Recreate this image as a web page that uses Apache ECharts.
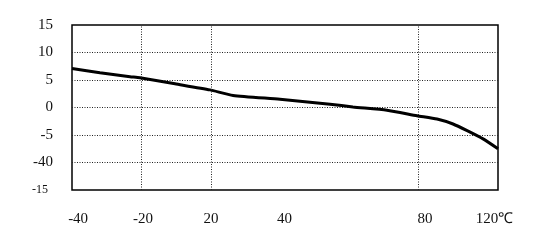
<!DOCTYPE html>
<html><head><meta charset="utf-8">
<script src="https://cdn.jsdelivr.net/npm/echarts@6/dist/echarts.min.js"></script>
<style>html,body{margin:0;padding:0;background:#fff}#c{width:544px;height:246px}</style>
</head><body><div id="c"></div>
<script>
// Temperature (°C) and value
const temps  = [-40, -29.5, -18.2, -14.5, -1.3, 11.8, 20.5, 38.1, 56.9, 65.5, 78.3, 89.6, 97.1, 103.1, 108.4, 114.4, 120];
const values = [7.1, 6.3, 5.6, 5.4, 4.3, 3.2, 2.2, 1.5, 0.6, 0.1, -0.5, -1.5, -2.1, -3.0, -4.2, -5.7, -7.5];
// X tick labels as printed, and where they sit along the axis
const xTickLabels = ['-40', '-20', '20', '40', '80', '120\u2103'];
const xLabelAt    = [-37.7, -13.3, 12.2, 39.8, 92.6, 118.7];
// Vertical dotted guide lines
const xGuides = [-14.1, 12.2, 90];
// Y tick labels as printed
const yTickValues = [15, 10, 5, 0, -5, -10, -15];
const yTickLabels = ['15', '10', '5', '0', '-5', '-40', '-15'];

const font = 'Liberation Serif';
const chart = echarts.init(document.getElementById('c'));
chart.setOption({
  animation: false,
  backgroundColor: '#fff',
  grid: {left: 72, right: 46, top: 25, bottom: 56, show: true, borderColor: '#000', borderWidth: 1.5},
  xAxis: {
    type: 'value', min: -40, max: 120,
    axisLine: {show: false}, axisTick: {show: false}, splitLine: {show: false},
    axisLabel: {
      customValues: xLabelAt,
      margin: 22, fontFamily: font, fontSize: 15, color: '#111',
      formatter: v => { const i = xLabelAt.findIndex(a => Math.abs(a - v) < 1e-6); return i >= 0 ? xTickLabels[i] : ''; }
    }
  },
  yAxis: {
    type: 'value', min: -15, max: 15, interval: 5,
    axisLine: {show: false}, axisTick: {show: false},
    splitLine: {show: true, showMinLine: false, showMaxLine: false, lineStyle: {type: [1, 1.5], color: '#222', width: 1}},
    axisLabel: {
      margin: 19, fontFamily: font, fontSize: 15, color: '#111',
      formatter: v => { const i = yTickValues.indexOf(v); const s = i >= 0 ? yTickLabels[i] : ''; return v === -15 ? '{s|' + s + '}' : s; },
      rich: {s: {fontFamily: font, fontSize: 12, color: '#111', padding: [0, 5, 0, 0]}}
    }
  },
  series: [{
    type: 'line',
    data: temps.map((t, i) => [t, values[i]]),
    showSymbol: false, smooth: 0.2,
    lineStyle: {color: '#000', width: 3},
    markLine: {
      silent: true, symbol: 'none', label: {show: false},
      lineStyle: {type: [1, 1.5], color: '#222', width: 1},
      data: xGuides.map(x => ({xAxis: x}))
    }
  }]
});
</script></body></html>
